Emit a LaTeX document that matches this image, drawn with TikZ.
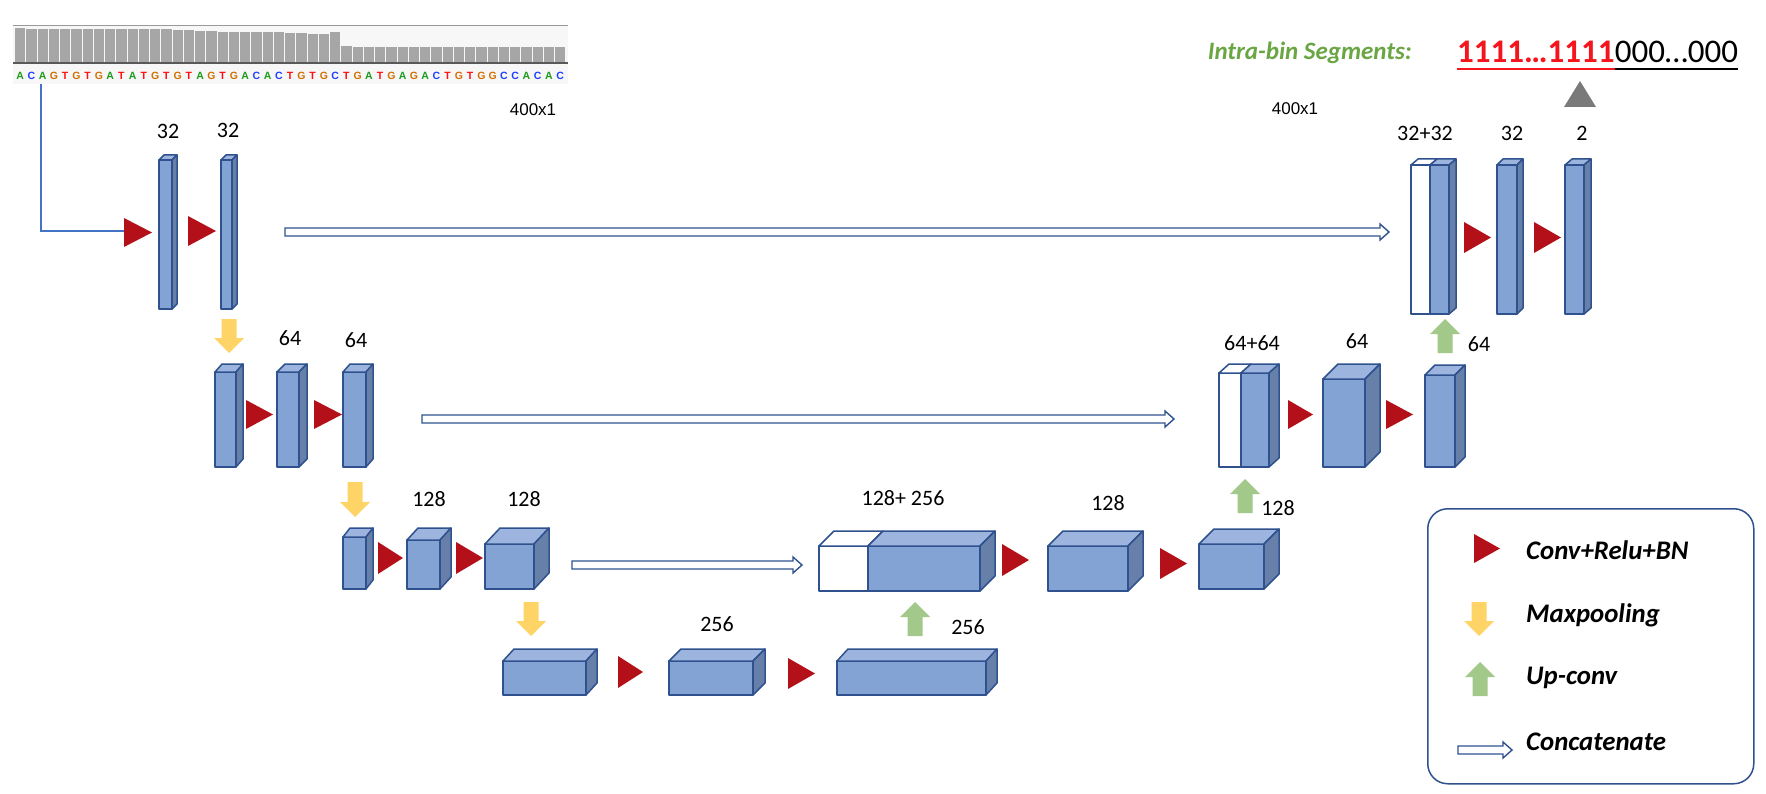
\documentclass[tikz,border=0pt]{standalone}
\usepackage{fontspec}
\setmainfont{Carlito}
\newfontfamily\arialf{Liberation Sans}
\usetikzlibrary{calc}
\definecolor{edgec}{HTML}{2F528F}
\definecolor{frontc}{HTML}{84A3D5}
\definecolor{topc}{HTML}{9DB5DE}
\definecolor{sidec}{HTML}{6680AA}
\definecolor{redc}{HTML}{B4101A}
\definecolor{yelc}{HTML}{FFD466}
\definecolor{grnc}{HTML}{A3C98A}
\definecolor{grntext}{HTML}{6AA643}
\definecolor{redtext}{HTML}{F4151D}
\definecolor{grayc}{HTML}{7A7A7A}
\definecolor{barc}{HTML}{A6A6A6}
\definecolor{bgc}{HTML}{F7F7F7}
\definecolor{bluel}{HTML}{4472C4}
\definecolor{colA}{HTML}{1E9A1E}
\definecolor{colC}{HTML}{1F3FFF}
\definecolor{colG}{HTML}{D17105}
\definecolor{colT}{HTML}{FF1010}
\tikzset{
  face/.style={draw=edgec, line width=1.5pt, line join=round, inner sep=0pt, outer sep=0pt},
  facetop/.style={face, fill=topc},
  faceside/.style={face, fill=sidec},
  lbl/.style={font=\fontsize{22}{26}\selectfont, inner sep=0pt},
  dimlbl/.style={font=\arialf\fontsize{17}{20}\selectfont, inner sep=0pt},
  concatarrow/.style={draw=edgec, line width=1.4pt, fill=white, line join=miter},
  legtext/.style={font=\fontsize{26.8}{30}\selectfont\bfseries\itshape, anchor=west, inner sep=0pt},
}
\newcommand\blk[8]{%
  \node[face, fill=#8, minimum width={#3-#2}, minimum height={#5-#4}, anchor=north west] (#1) at (#2,#4) {};
  \filldraw[facetop] (#1.north west) -- ++(#6,-#7) -- ++({#3-#2},0) -- (#1.north east) -- cycle;
  \filldraw[faceside] (#1.north east) -- ++(#6,-#7) -- ++(0,{#5-#4}) -- (#1.south east) -- cycle;
}
\newcommand\cblk[8]{%
  \node[face, fill=white, minimum width={#3-#2}, minimum height={#6-#5}, anchor=north west] (#1w) at (#2,#5) {};
  \filldraw[face, fill=white] (#1w.north west) -- ++(#7,-#8) -- ++({#3-#2},0) -- (#1w.north east) -- cycle;
  \blk{#1}{#3}{#4}{#5}{#6}{#7}{#8}{frontc}
}
\newcommand\tri[4]{\fill[redc] (#1,#3) -- (#2,{(#3+#4)/2}) -- (#1,#4) -- cycle;}
\newcommand\ydown[3]{\fill[yelc] ({#1-7.5},#2) -- ({#1+7.5},#2) -- ({#1+7.5},{#3-15}) -- ({#1+15},{#3-15}) -- (#1,#3) -- ({#1-15},{#3-15}) -- ({#1-7.5},{#3-15}) -- cycle;}
\newcommand\gup[3]{\fill[grnc] ({#1-7.5},#3) -- ({#1+7.5},#3) -- ({#1+7.5},{#2+15}) -- ({#1+15},{#2+15}) -- (#1,#2) -- ({#1-15},{#2+15}) -- ({#1-7.5},{#2+15}) -- cycle;}
\newcommand\concat[2]{\path[concatarrow] let \p1=(#1), \p2=(#2) in
  (\x1,{\y1+4pt}) -- ({\x2-9pt},{\y1+4pt}) -- ({\x2-9pt},{\y1+8pt}) -- (\x2,\y1) -- ({\x2-9pt},{\y1-8pt}) -- ({\x2-9pt},{\y1-4pt}) -- (\x1,{\y1-4pt}) -- cycle;}
\begin{document}
\begin{tikzpicture}[x=1pt,y=-1pt]
\useasboundingbox (0,0) rectangle (1766,794);
\fill[white] (0,0) rectangle (1766,794);
% ---------- coverage track ----------
\fill[bgc] (13,26) rectangle (568,84);
\foreach \t [count=\i from 0] in {28,29,29,29,29,29,29,29,29,29,29,29,29,29,30,30,31,31,31.7,31.7,31.7,31.7,31.7,31.7,32.7,32.7,33.7,33.7,32.3,46,47,47,47,47,47,47,47,47,47,47,47,47,47,47,47,47,47,47,47}
  \fill[barc] ({15+11.25*\i},\t) rectangle ({15+11.25*\i+10.3},63);
\draw[gray!80, line width=1pt] (13,26) -- (568,26);
\draw[black!65, line width=2pt] (13,63.5) -- (568,63.5);
\foreach \c [count=\i from 0] in {A,C,A,G,T,G,T,G,A,T,A,T,G,T,G,T,A,G,T,G,A,C,A,C,T,G,T,G,C,T,G,A,T,G,A,G,A,C,T,G,T,G,G,C,C,A,C,A,C}
  \node[text=col\c, font=\arialf\bfseries\fontsize{10.5}{12}\selectfont, inner sep=0pt] at ({20.2+11.25*\i},76) {\c};
% input line
\coordinate (seq) at (41,84);
\coordinate (inbend) at (41,231);
\coordinate (t1in) at (124,231);
\draw[bluel, line width=2pt] (seq) -- (inbend) -- (t1in);
% ---------- level 1 ----------
\tri{124}{152}{218}{247}
\blk{e1a}{159}{172}{160}{309}{5}{5}{frontc}
\tri{188}{216}{216}{246}
\blk{e1b}{221}{232}{160}{309}{5}{5}{frontc}
\coordinate (c1a) at (285,232);
\coordinate (c1b) at (1389,232);
\concat{c1a}{c1b}
\cblk{d1a}{1411}{1430}{1449}{165}{314}{7}{6}
\tri{1464}{1491}{222}{253}
\blk{d1b}{1497}{1517}{165}{314}{6}{6}{frontc}
\tri{1534}{1561}{222}{253}
\blk{d1c}{1565}{1584}{165}{314}{7}{6}{frontc}
\fill[grayc] (1564,107) -- (1580,81) -- (1596,107) -- cycle;
\node[lbl] (l1) at (168,131) {32};
\node[lbl] (l2) at (228,130) {32};
\node[dimlbl] (dim1) at (533,110) {400x1};
\node[dimlbl] (dim2) at (1295,109) {400x1};
\node[lbl] (l3) at (1425,133) {32+32};
\node[lbl] (l4) at (1512,133) {32};
\node[lbl] (l5) at (1582,133) {2};
% output text
\node[anchor=east, font=\fontsize{25}{30}\selectfont\bfseries\itshape, text=grntext, inner sep=0pt] (intra) at (1412,53) {Intra-bin Segments:};
\node[anchor=base west, font=\fontsize{33}{38}\selectfont\bfseries, text=redtext, inner sep=0pt] (ones) at (1457,63) {1111…1111};
\node[anchor=base west, font=\fontsize{33}{38}\selectfont, inner sep=0pt] (zeros) at (ones.base east) {000…000};
\draw[redtext, line width=2.5pt] ($(ones.base west)+(0,6)$) -- ($(ones.base east)+(0,6)$);
\draw[black, line width=2.5pt] ($(zeros.base west)+(0,6)$) -- ($(zeros.base east)+(0,6)$);
% ---------- level 2 ----------
\ydown{229}{319}{353}
\blk{e2a}{215}{236}{372}{467}{7}{8}{frontc}
\tri{246}{273}{400}{429}
\blk{e2b}{277}{299}{372}{467}{8}{8}{frontc}
\tri{314}{342}{400}{429}
\blk{e2c}{343}{366}{372}{467}{7}{8}{frontc}
\coordinate (c2a) at (422,419);
\coordinate (c2b) at (1174,419);
\concat{c2a}{c2b}
\cblk{d2a}{1219}{1241}{1269}{373}{467}{10}{9}
\tri{1288}{1313}{400}{429}
\blk{d2b}{1323}{1365}{379}{467}{15}{15}{frontc}
\tri{1386}{1413}{400}{429}
\blk{d2c}{1425}{1455}{375}{467}{10}{10}{frontc}
\gup{1445}{319}{353}
\node[lbl] (l6) at (290,338) {64};
\node[lbl] (l7) at (356,340) {64};
\node[lbl] (l8) at (1252,343) {64+64};
\node[lbl] (l9) at (1357,341) {64};
\node[lbl] (l10) at (1479,344) {64};
% ---------- level 3 ----------
\ydown{355}{482}{517}
\blk{e3a}{343}{366}{537}{589}{7}{9}{frontc}
\tri{378}{403}{542}{574}
\blk{e3b}{407}{440}{540}{589}{11}{12}{frontc}
\tri{456}{483}{542}{574}
\blk{e3c}{485}{534}{544}{589}{15}{16}{frontc}
\coordinate (c3a) at (572,565);
\coordinate (c3b) at (802,565);
\concat{c3a}{c3b}
\cblk{d3a}{819}{868}{980}{546}{591}{15}{15}
\tri{1002}{1029}{544}{576}
\blk{d3b}{1048}{1128}{546}{591}{15}{15}{frontc}
\tri{1160}{1187}{548}{579}
\blk{d3c}{1199}{1264}{544}{589}{15}{15}{frontc}
\gup{1245}{479}{513}
\node[lbl] (l11) at (429,499) {128};
\node[lbl] (l12) at (524,499) {128};
\node[lbl] (l13) at (903,498) {128+ 256};
\node[lbl] (l14) at (1108,503) {128};
\node[lbl] (l15) at (1278,508) {128};
% ---------- level 4 ----------
\ydown{531}{602}{636}
\blk{b4a}{503}{586}{661}{695}{11}{12}{frontc}
\tri{618}{643}{656}{688}
\blk{b4b}{669}{753}{661}{695}{12}{12}{frontc}
\tri{788}{815}{658}{689}
\blk{b4c}{837}{986}{661}{695}{11}{12}{frontc}
\gup{915}{602}{636}
\node[lbl] (l16) at (717,624) {256};
\node[lbl] (l17) at (968,627) {256};
% ---------- legend ----------
\node[draw=edgec, line width=1.5pt, rounded corners=20pt, minimum width=326, minimum height=275, anchor=north west, inner sep=0pt] (legend) at (1427,508) {};
\tri{1474}{1500}{534}{563}
\ydown{1479}{602}{636}
\gup{1480}{662}{696}
\coordinate (lga) at (1458,750);
\coordinate (lgb) at (1512,750);
\concat{lga}{lgb}
\node[legtext] (lt1) at (1526,550) {Conv+Relu+BN};
\node[legtext] (lt2) at (1526,615) {Maxpooling};
\node[legtext] (lt3) at (1526,678) {Up-conv};
\node[legtext] (lt4) at (1526,742) {Concatenate};
\end{tikzpicture}
\end{document}
